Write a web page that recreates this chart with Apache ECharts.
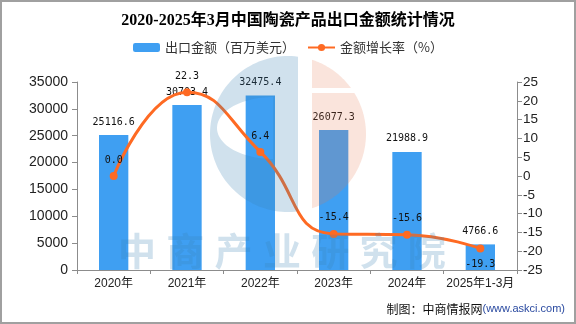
<!DOCTYPE html>
<html>
<head>
<meta charset="utf-8">
<script src="https://cdn.jsdelivr.net/npm/echarts@6/dist/echarts.min.js"></script>
<style>
  html, body { margin: 0; padding: 0; background: #fff; }
  #chart { width: 576px; height: 324px; }
</style>
</head>
<body>
<div id="chart"></div>
<script>
// Categories and values
const years = ['2020年', '2021年', '2022年', '2023年', '2024年', '2025年1-3月'];
const exportValue = [25116.6, 30703.4, 32475.4, 26077.3, 21988.9, 4766.6];   // 百万美元
const growthRate = [0.0, 22.3, 6.4, -15.4, -15.6, -19.3];                    // %
const seriesNames = ['出口金额（百万美元）', '金额增长率（%）'];
const titleText = '2020-2025年3月中国陶瓷产品出口金额统计情况';
const watermarkText = '中商产业研究院';

const BAR_COLOR = '#3f9ff2';
const LINE_COLOR = '#fe6a23';
const AXIS_COLOR = '#8c8c8c';
const LABEL_FONT = '"DejaVu Sans Mono", "Liberation Mono", monospace';
const SANS = '"Liberation Sans", "Noto Sans CJK SC", sans-serif';

// ---- background logo helpers (decorative) ----
const CX = 288, CY = 134, R = 78;
function arcPts(a0, a1, steps) {
  const pts = [];
  for (let i = 0; i <= steps; i++) {
    const a = (a0 + (a1 - a0) * i / steps) * Math.PI / 180;
    pts.push([CX + R * Math.cos(a), CY + R * Math.sin(a)]);
  }
  return pts;
}
function deg(dx, dy) { return Math.atan2(dy, dx) * 180 / Math.PI; }

// blue "C" with a slit into its inner hole
function blueShape() {
  const xr = 298;
  const h = Math.sqrt(R * R - (xr - CX) * (xr - CX));
  const pts = [[xr, CY - h], [xr, CY + h]];
  const aB = deg(xr - CX, h), aT = 360 - aB;
  pts.push(...arcPts(aB, aT, 80));
  // hole: half ellipse attached to x = 273
  const hx = 273, hy = 128, rx = 56, ry = 31;
  for (let i = 0; i <= 60; i++) {
    const a = (270 - 180 * i / 60) * Math.PI / 180;
    pts.push([hx + rx * Math.cos(a) * (Math.cos(a) < 0 ? 1 : 0), hy + ry * Math.sin(a)]);
  }
  pts.push([hx, hy - ry]);
  pts.push([xr, CY - h]);
  return pts;
}
function orangeTop() {
  const x0 = 312, yCut = 88;
  const a0 = deg(x0 - CX, -Math.sqrt(R * R - (x0 - CX) * (x0 - CX)));
  const a1 = deg(Math.sqrt(R * R - (yCut - CY) * (yCut - CY)), yCut - CY);
  return [...arcPts(a0, a1, 30), [x0, yCut]];
}
function orangeBottom() {
  const x0 = 312, yCut = 93;
  const a0 = deg(Math.sqrt(R * R - (yCut - CY) * (yCut - CY)), yCut - CY);
  const a1 = deg(x0 - CX, Math.sqrt(R * R - (x0 - CX) * (x0 - CX)));
  return [[x0, yCut], ...arcPts(a0, a1, 60)];
}

const watermarkChars = watermarkText.split('').map((ch, i) => ({
  type: 'text',
  z: 50,
  silent: true,
  x: 137 + 48.3 * i,
  y: 251,
  style: {
    text: ch,
    fill: 'rgba(60,130,180,0.24)',
    font: 'bold 38px "Noto Sans CJK SC", sans-serif',
    textAlign: 'center',
    textVerticalAlign: 'middle'
  }
}));

// the last growth label sits under its point so it clears the bar label
const growthData = growthRate.map((v, i) =>
  i === growthRate.length - 1 ? { value: v, label: { position: 'bottom', distance: 7 } } : v
);

const chart = echarts.init(document.getElementById('chart'), null, { renderer: 'canvas' });

chart.setOption({
  backgroundColor: '#fff',
  animation: false,
  title: {
    text: titleText,
    left: 'center',
    top: 13,
    padding: 0,
    textStyle: {
      fontSize: 16,
      fontWeight: 'bold',
      color: '#000',
      fontFamily: '"Liberation Serif", "Noto Sans CJK SC", serif'
    }
  },
  legend: {
    data: seriesNames,
    left: 133,
    top: 41,
    padding: 0,
    itemGap: 12,
    itemWidth: 27,
    itemHeight: 9,
    textStyle: { fontSize: 13, color: '#333', fontFamily: '"Noto Sans CJK SC", sans-serif' }
  },
  grid: { left: 77, right: 59, top: 82, bottom: 54, containLabel: false },
  xAxis: {
    type: 'category',
    data: years,
    axisLine: { lineStyle: { color: AXIS_COLOR, width: 1 } },
    axisTick: { show: true, length: 4, lineStyle: { color: AXIS_COLOR } },
    axisLabel: { color: '#222', fontSize: 12, margin: 8, fontFamily: SANS, interval: 0 }
  },
  yAxis: [
    {
      type: 'value',
      min: 0, max: 35000, interval: 5000,
      axisLine: { show: true, lineStyle: { color: AXIS_COLOR } },
      axisTick: { show: true, length: 5, lineStyle: { color: AXIS_COLOR } },
      splitLine: { show: false },
      axisLabel: { color: '#222', fontSize: 14, margin: 9, fontFamily: SANS, formatter: v => String(v) }
    },
    {
      type: 'value',
      min: -25, max: 25, interval: 5,
      position: 'right',
      axisLine: { show: true, lineStyle: { color: AXIS_COLOR } },
      axisTick: { show: true, length: 5, lineStyle: { color: AXIS_COLOR } },
      splitLine: { show: false },
      axisLabel: { color: '#222', fontSize: 13.5, margin: 6, fontFamily: SANS, formatter: v => String(v) }
    }
  ],
  series: [
    {
      name: seriesNames[0],
      type: 'bar',
      data: exportValue,
      yAxisIndex: 0,
      barWidth: '40%',
      itemStyle: { color: BAR_COLOR },
      label: {
        show: true,
        position: 'top',
        distance: 8,
        color: '#111',
        fontSize: 10,
        fontFamily: LABEL_FONT,
        formatter: p => p.value.toFixed(1)
      }
    },
    {
      name: seriesNames[1],
      type: 'line',
      data: growthData,
      yAxisIndex: 1,
      smooth: true,
      symbol: 'circle',
      symbolSize: 8,
      lineStyle: { color: LINE_COLOR, width: 3 },
      itemStyle: { color: LINE_COLOR },
      label: {
        show: true,
        position: 'top',
        distance: 7,
        color: '#111',
        fontSize: 10,
        fontFamily: LABEL_FONT,
        formatter: p => Number(p.value).toFixed(1)
      },
      z: 3
    }
  ],
  graphic: [
    {
      type: 'polygon', z: 50, silent: true,
      shape: { points: blueShape() },
      style: { fill: 'rgba(60,130,180,0.24)' }
    },
    {
      type: 'polygon', z: 50, silent: true,
      shape: { points: orangeTop() },
      style: { fill: 'rgba(230,120,80,0.2)' }
    },
    {
      type: 'polygon', z: 50, silent: true,
      shape: { points: orangeBottom() },
      style: { fill: 'rgba(230,120,80,0.2)' }
    },
    ...watermarkChars,
    {
      type: 'text', z: 60, silent: true,
      right: 11, top: 303,
      style: {
        text: '{a|制图：中商情报网}{b|(www.askci.com)}',
        rich: {
          a: { fontSize: 12, fill: '#111', fontFamily: '"Noto Sans CJK SC", sans-serif' },
          b: { fontSize: 11, fill: '#2a4aa0', fontFamily: '"Liberation Sans", sans-serif' }
        }
      }
    },
    {
      type: 'rect', z: 60, silent: true,
      shape: { x: 1, y: 1, width: 574, height: 322 },
      style: { fill: 'none', stroke: '#a0a0a0', lineWidth: 2 }
    }
  ]
});
</script>
</body>
</html>
